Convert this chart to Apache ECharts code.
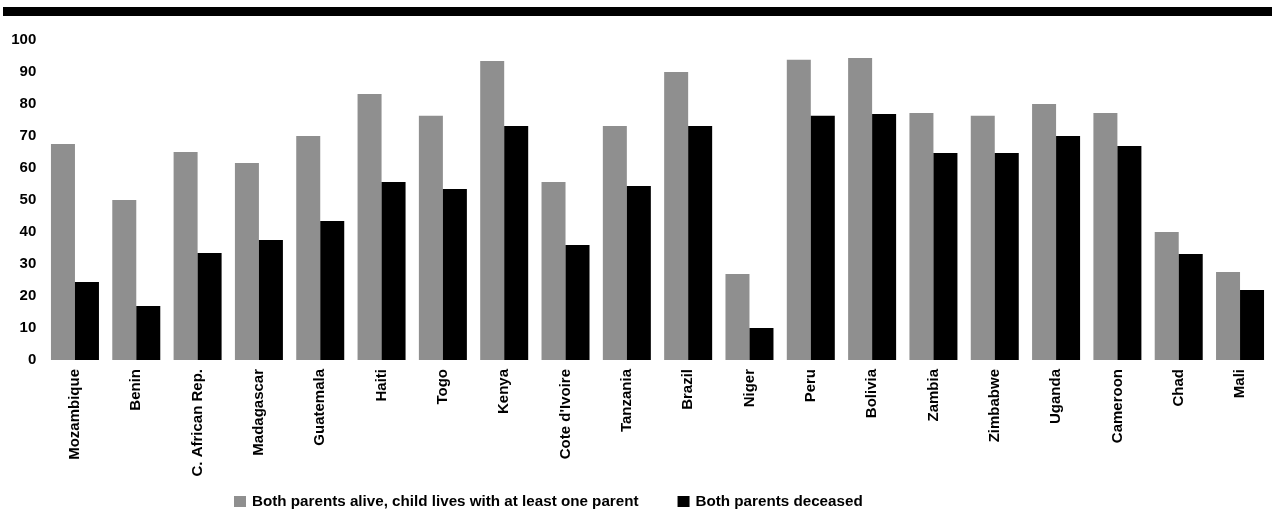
<!DOCTYPE html>
<html>
<head>
<meta charset="utf-8">
<script src="https://cdn.jsdelivr.net/npm/echarts@6/dist/echarts.min.js"></script>
<style>
html,body{margin:0;padding:0;background:#fff;}
#chart{width:1272px;height:510px;}
</style>
</head>
<body>
<div id="chart"></div>
<script>
const countries = ["Mozambique","Benin","C. African Rep.","Madagascar","Guatemala","Haiti","Togo","Kenya","Cote d'Ivoire","Tanzania","Brazil","Niger","Peru","Bolivia","Zambia","Zimbabwe","Uganda","Cameroon","Chad","Mali"];
const bothAlive = [67.5,50,65,61.6,70,83.1,76.3,93.4,55.6,73.1,90,26.9,93.8,94.4,77.2,76.3,80,77.2,40,27.5];
const bothDeceased = [24.4,16.9,33.4,37.5,43.4,55.6,53.4,73.1,35.9,54.4,73.1,10,76.3,76.9,64.7,64.7,70,66.9,33.1,21.9];
const seriesNames = ["Both parents alive, child lives with at least one parent","Both parents deceased"];
const yTicks = {min:0,max:100,interval:10};

const font = "'Liberation Sans', Arial, sans-serif";
const chart = echarts.init(document.getElementById('chart'));
chart.setOption({
  animation:false,
  backgroundColor:'#fff',
  graphic:[{type:'rect',shape:{x:3,y:7,width:1269,height:9},style:{fill:'#000'},z:10}],
  legend:{
    left:234, top:494, padding:0,
    itemWidth:12, itemHeight:11, itemGap:39,
    icon:'rect',
    textStyle:{fontFamily:font,fontWeight:'bold',fontSize:15.2,color:'#000',padding:[0,0,0,1]},
    data:seriesNames
  },
  grid:{left:44.3,right:1.3,top:40,bottom:150,containLabel:false},
  xAxis:{
    type:'category',data:countries,
    axisLine:{show:false},axisTick:{show:false},
    axisLabel:{rotate:90,interval:0,margin:9,fontFamily:font,fontWeight:'bold',fontSize:15,color:'#000'}
  },
  yAxis:{
    type:'value',min:yTicks.min,max:yTicks.max,interval:yTicks.interval,
    axisLine:{show:false},axisTick:{show:false},splitLine:{show:false},
    axisLabel:{margin:8,padding:[4,0,0,0],fontFamily:font,fontWeight:'bold',fontSize:15,color:'#000'}
  },
  series:[
    {name:seriesNames[0],type:'bar',data:bothAlive,barWidth:24,barGap:'0%',itemStyle:{color:'#8f8f8f'}},
    {name:seriesNames[1],type:'bar',data:bothDeceased,barWidth:24,barGap:'0%',itemStyle:{color:'#000'}}
  ]
});
</script>
</body>
</html>
